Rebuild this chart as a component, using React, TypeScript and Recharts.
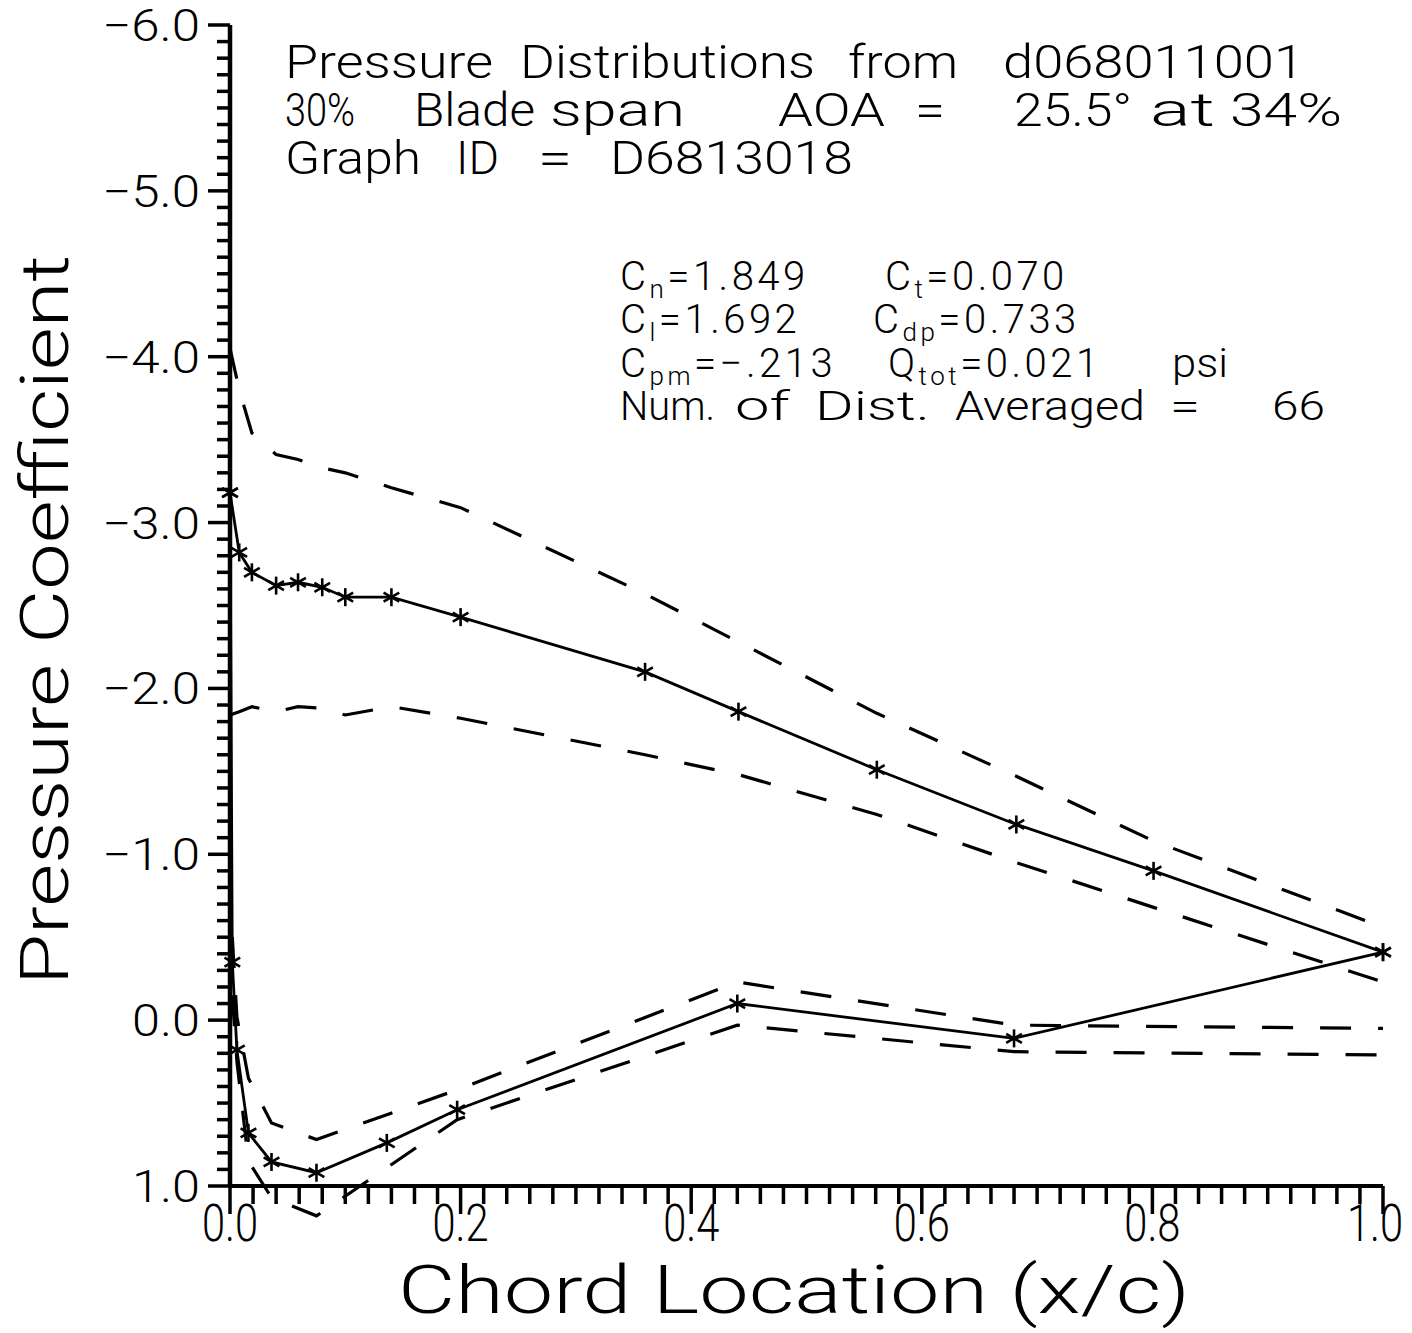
import React from 'react';
import { LineChart, Line, XAxis, YAxis } from 'recharts';

// Upper (suction) surface: chord stations and mean / envelope pressure coefficients
const upperX = [0, 0.008, 0.019, 0.04, 0.059, 0.08, 0.1, 0.14, 0.2, 0.36, 0.441, 0.561, 0.682, 0.801, 1.0];
const upperCp = [-3.18, -2.82, -2.7, -2.62, -2.64, -2.61, -2.55, -2.55, -2.43, -2.1, -1.86, -1.51, -1.18, -0.9, -0.41];
const upperHigh = [-4.05, -3.8, -3.54, -3.41, -3.38, -3.33, -3.3, -3.21, -3.09, -2.57, -2.28, -1.85, -1.47, -1.08, -0.56];
const upperLow = [-1.84, -1.86, -1.89, -1.86, -1.89, -1.88, -1.84, -1.89, -1.82, -1.6, -1.48, -1.24, -0.95, -0.68, -0.23];

// Lower (pressure) surface: starts from the leading-edge point
const lowerX = [0, 0.002, 0.006, 0.016, 0.036, 0.075, 0.136, 0.197, 0.44, 0.68, 1.0];
const lowerCp = [-3.18, -0.35, 0.18, 0.68, 0.855, 0.92, 0.74, 0.54, -0.1, 0.11, -0.41];
const lowerEnvX = [0.002, 0.006, 0.016, 0.036, 0.075, 0.136, 0.197, 0.44, 0.68, 1.0];
const lowerHigh = [-0.5, -0.02, 0.35, 0.62, 0.72, 0.57, 0.42, -0.23, 0.03, 0.05];
const lowerLow = [-0.15, 0.25, 0.85, 1.07, 1.18, 0.89, 0.6, 0.03, 0.19, 0.21];

// Axis tick labels
const xMajorLabels = ['0.0', '0.2', '0.4', '0.6', '0.8', '1.0'];
const yMajorLabels = ['\u22126.0', '\u22125.0', '\u22124.0', '\u22123.0', '\u22122.0', '\u22121.0', '0.0', '1.0'];

const xTicks = Array.from({ length: 51 }, (_, i) => +(i * 0.02).toFixed(2));
const yTicks = Array.from({ length: 71 }, (_, i) => +(-6 + i * 0.1).toFixed(1));

const toPts = (xs: number[], ys: number[]) => xs.map((x, i) => ({ x, y: ys[i] }));

const FONT = 'Roboto, "Liberation Sans", Arial, sans-serif';
const FW = 300;
const DASH = '31 27';

const Star = (props: any) => {
  const { cx, cy, index } = props;
  if (cx == null || cy == null) return <g key={`e${index}`} />;
  const r = 9;
  return (
    <g key={`s${index}`} stroke="#000" strokeWidth={2.6}>
      <line x1={cx} y1={cy - r} x2={cx} y2={cy + r} />
      <line x1={cx - r * 0.87} y1={cy - r * 0.5} x2={cx + r * 0.87} y2={cy + r * 0.5} />
      <line x1={cx - r * 0.87} y1={cy + r * 0.5} x2={cx + r * 0.87} y2={cy - r * 0.5} />
    </g>
  );
};

const XTick = (props: any) => {
  const { x, y, payload } = props;
  const idx = Math.round(payload.value / 0.02);
  const major = idx % 10 === 0;
  const last = idx === 50;
  return (
    <g>
      <line x1={x} y1={y} x2={x} y2={y + (major ? 28 : 18)} stroke="#000" strokeWidth={3.5} />
      {major && (
        <text transform={`translate(${last ? x + 20 : x},${y + 55}) scale(0.8,1)`} x={0} y={0}
          textAnchor={last ? 'end' : 'middle'} fontSize={52} fontFamily={FONT} fontWeight={FW} fill="#000">
          {xMajorLabels[idx / 10]}
        </text>
      )}
    </g>
  );
};

const YTick = (props: any) => {
  const { x, y, payload } = props;
  const idx = Math.round((payload.value + 6) * 10);
  const major = idx % 10 === 0;
  const label = major ? yMajorLabels[idx / 10] : '';
  return (
    <g>
      <line x1={x - (major ? 22 : 13)} y1={y} x2={x} y2={y} stroke="#000" strokeWidth={3.5} />
      {major && (
        <text x={x - 30} y={y + 16} textAnchor="end" fontSize={44} fontFamily={FONT} fontWeight={FW} fill="#000"
          textLength={label.length === 4 ? 98 : 68} lengthAdjust="spacingAndGlyphs">
          {label}
        </text>
      )}
    </g>
  );
};

type W = [string, number, number];
const titleLines: { y: number; words: W[] }[] = [
  { y: 78, words: [['Pressure', 285, 208], ['Distributions', 520, 295], ['from', 848, 110], ['d068011001', 1003, 301]] },
  { y: 126, words: [['30%', 285, 70], ['Blade', 414, 121], ['span', 550, 135], ['AOA', 778, 107], ['=', 915, 30], ['25.5\u00b0', 1014, 118], ['at', 1150, 65], ['34%', 1230, 112]] },
  { y: 174, words: [['Graph', 285, 136], ['ID', 456, 43], ['=', 538, 34], ['D6813018', 610, 243]] },
];

type C = [number, number, string, string, string];
const coefItems: C[] = [
  [620, 290, 'C', 'n', '=1.849'],
  [885, 290, 'C', 't', '=0.070'],
  [620, 333, 'C', 'l', '=1.692'],
  [873, 333, 'C', 'dp', '=0.733'],
  [620, 377, 'C', 'pm', '=\u2212.213'],
  [888, 377, 'Q', 'tot', '=0.021'],
];
const plainWords: W[] = [
  ['psi', 1172, 56],
  ['Num.', 620, 95], ['of', 735, 55], ['Dist.', 815, 115], ['Averaged', 955, 190], ['=', 1170, 30], ['66', 1272, 53],
];
const plainY = [377, 420, 420, 420, 420, 420, 420];

export default function App() {
  return (
    <div style={{ position: 'absolute', left: 0, top: 0, width: 1412, height: 1333, background: '#fff' }}>
      <style>{'.recharts-wrapper [clip-path]{clip-path:none !important}'}</style>
      <LineChart width={1412} height={1333} margin={{ top: 25, right: 29, left: 0, bottom: 0 }}>
        <XAxis dataKey="x" type="number" domain={[0, 1]} allowDataOverflow ticks={xTicks} interval={0}
          height={147} tickSize={0} tickMargin={0} tickLine={false}
          axisLine={{ stroke: '#000', strokeWidth: 4 }} tick={(p: any) => <XTick {...p} />} />
        <YAxis type="number" domain={[-6, 1]} reversed allowDataOverflow ticks={yTicks} interval={0}
          width={230} tickSize={0} tickMargin={0} tickLine={false}
          axisLine={{ stroke: '#000', strokeWidth: 4.5 }} tick={(p: any) => <YTick {...p} />} />
        <Line data={toPts(upperX, upperHigh)} dataKey="y" type="linear" stroke="#000" strokeWidth={3.2}
          strokeDasharray={DASH} dot={false} isAnimationActive={false} />
        <Line data={toPts(upperX, upperLow)} dataKey="y" type="linear" stroke="#000" strokeWidth={3.2}
          strokeDasharray={DASH} dot={false} isAnimationActive={false} />
        <Line data={toPts(lowerEnvX, lowerHigh)} dataKey="y" type="linear" stroke="#000" strokeWidth={3.2}
          strokeDasharray={DASH} dot={false} isAnimationActive={false} />
        <Line data={toPts(lowerEnvX, lowerLow)} dataKey="y" type="linear" stroke="#000" strokeWidth={3.2}
          strokeDasharray={DASH} dot={false} isAnimationActive={false} />
        <Line data={toPts(upperX, upperCp)} dataKey="y" type="linear" stroke="#000" strokeWidth={2.8}
          dot={(p: any) => <Star {...p} />} isAnimationActive={false} />
        <Line data={toPts(lowerX, lowerCp)} dataKey="y" type="linear" stroke="#000" strokeWidth={2.8}
          dot={(p: any) => <Star {...p} />} isAnimationActive={false} />
      </LineChart>
      <svg width={1412} height={1333} style={{ position: 'absolute', left: 0, top: 0, pointerEvents: 'none' }}
        fontFamily={FONT} fontWeight={FW} fill="#000">
        {titleLines.map((ln, li) =>
          ln.words.map(([t, x, w], wi) => (
            <text key={`t${li}-${wi}`} x={x} y={ln.y} fontSize={46} textLength={w} lengthAdjust="spacingAndGlyphs">{t}</text>
          ))
        )}
        {coefItems.map(([x, y, m, s, r], i) => (
          <text key={`c${i}`} x={x} y={y} fontSize={40} letterSpacing={3.5}>
            {m}
            <tspan fontSize={26} dy={8}>{s}</tspan>
            <tspan dy={-8}>{r}</tspan>
          </text>
        ))}
        {plainWords.map(([t, x, w], i) => (
          <text key={`p${i}`} x={x} y={plainY[i]} fontSize={40} textLength={w} lengthAdjust="spacingAndGlyphs">{t}</text>
        ))}
        <text transform="translate(68, 985) rotate(-90)" x={0} y={0} fontSize={66} textLength={730}
          lengthAdjust="spacingAndGlyphs">Pressure Coefficient</text>
        <text x={398} y={1313} fontSize={66} textLength={792} lengthAdjust="spacingAndGlyphs">Chord Location (x/c)</text>
      </svg>
    </div>
  );
}
